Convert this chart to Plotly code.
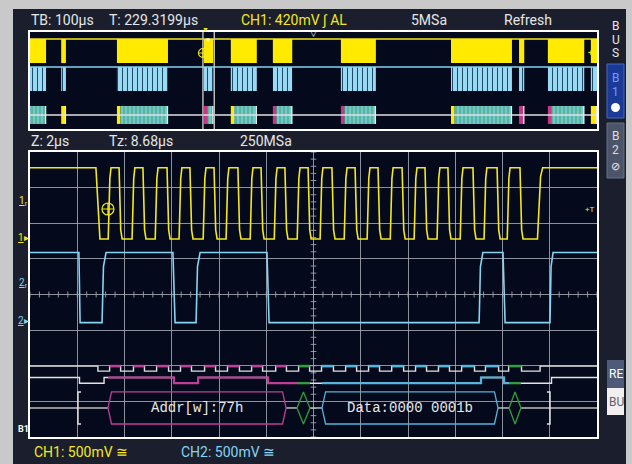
import plotly.graph_objects as go

W, H = 632, 464

# ---------------- zoomed acquisition: time in µs (Z: 2 µs/div), level in divisions ----------------
ch1_high_level = 7.56
ch1_low_level = 5.56
ch1_first_fall = [2.79, 2.96]
ch1_pulse_top_start = [3.43, 4.44, 5.42, 6.43, 7.45, 8.42, 9.44, 10.46, 11.43,
                       12.40, 13.42, 14.39, 15.37, 16.38, 17.35, 18.33, 19.34, 20.32]
ch1_pulse_top_end = [3.77, 4.78, 5.80, 6.77, 7.79, 8.80, 9.78, 10.79, 11.77,
                     12.78, 13.76, 14.73, 15.75, 16.72, 17.69, 18.75, 19.77, 20.74]
ch1_last_rise = [21.48, 21.70]

ch2_high_level = 5.18
ch2_low_level = 3.21
ch2_edge_start = [2.07, 3.05, 6.05, 7.03, 10.03, 19.01, 20.02, 22.01]
ch2_edge_end = [2.12, 3.22, 6.14, 7.20, 10.12, 19.17, 20.11, 22.14]

frame_labels = ["Addr[w]:77h", "", "Data:0000 0001b", ""]
frame_kinds = ["addr", "ack", "data", "ack"]
frame_start = [3.30, 11.30, 12.36, 20.28]
frame_end = [10.84, 11.85, 19.81, 20.78]
start_condition = 2.03
stop_condition = 22.01

trigger_time = 3.30
trigger_level = 6.40

# ---------------- overview acquisition: time in µs (TB: 100 µs/div) ----------------
ov_burst_start = [0, 66, 184, 368, 425, 514, 658, 891, 1035, 1096, 1187]
ov_burst_end = [34, 76, 292, 388, 480, 555, 732, 1020, 1046, 1173, 1200]
ov_burst_marker = ["none", "yellow", "yellow", "magenta", "yellow", "magenta",
                   "magenta", "yellow", "magenta", "magenta", "yellow"]
zoom_window = [366, 390]
ov_trigger_time = 366
ov_trigger_level = 7.84

# ---------------- styling ----------------
SCREEN = "#1b1f2d"
PLOT = "#040a1b"
FRAME_GRAY = "#c9c9c9"
GRID = "rgba(165,170,180,0.85)"
YEL = "#f4e81c"
BLU = "#86d3f2"
MAG = "#bf3f98"
CYA = "#55b4dc"
GRN = "#2f9e3c"
WHT = "#e2e2e2"
KIND_COLOR = {"addr": MAG, "data": CYA, "ack": GRN}
FONT = "Roboto"
MONO = "Liberation Mono"

# bus row positions (divisions)
R1_HI, R1_LO = 1.99, 1.85
R2_HI, R2_LO = 1.67, 1.51
R3_C, R3_T, R3_B = 0.815, 1.264, 0.365
TEND = 24.0

# overview rows (0..10)
OV_Y_HI, OV_Y_LO = 9.28, 6.80
OV_B_HI, OV_B_LO = 6.39, 3.92
OV_S_HI, OV_S_LO, OV_S_C = 2.37, 0.52, 1.44


def px(x):
    return x / W


def py(y):
    return 1 - y / H


fig = go.Figure()


def line(x, y, color, width, xa="x", ya="y", **kw):
    fig.add_trace(go.Scatter(x=x, y=y, mode="lines", xaxis=xa, yaxis=ya,
                             line=dict(color=color, width=width), hoverinfo="skip", **kw))


# ---- center graticule ticks ----
tx, ty = [], []
for k in range(41):
    yv = k * 0.2
    tx += [12 - 0.12, 12 + 0.12, None]
    ty += [yv, yv, None]
for k in range(61):
    xv = k * 0.4
    tx += [xv, xv, None]
    ty += [4 - 0.085, 4 + 0.085, None]
line(tx, ty, GRID, 1)

# ---- CH1 analog path ----
t1 = [0, ch1_first_fall[0], ch1_first_fall[1]]
v1 = [ch1_high_level, ch1_high_level, ch1_low_level]
for a, b in zip(ch1_pulse_top_start, ch1_pulse_top_end):
    t1 += [a - 0.12, a - 0.05, a, b, b + 0.07, b + 0.13]
    v1 += [ch1_low_level, ch1_high_level - 0.3, ch1_high_level, ch1_high_level,
           ch1_low_level + 0.25, ch1_low_level]
t1 += [ch1_last_rise[0], ch1_last_rise[0] + 0.6 * (ch1_last_rise[1] - ch1_last_rise[0]),
       ch1_last_rise[1], TEND]
v1 += [ch1_low_level, ch1_high_level - 0.25, ch1_high_level, ch1_high_level]

# ---- CH2 analog path ----
t2 = [0]
v2 = [ch2_high_level]
lvl_high = True
for a, b in zip(ch2_edge_start, ch2_edge_end):
    if lvl_high:
        t2 += [a, b]
        v2 += [ch2_high_level, ch2_low_level]
    else:
        t2 += [a, a + 0.35 * (b - a), b]
        v2 += [ch2_low_level, ch2_low_level + 0.8 * (ch2_high_level - ch2_low_level), ch2_high_level]
    lvl_high = not lvl_high
t2.append(TEND)
v2.append(v2[-1])

line(t2, v2, BLU, 1.6)
line(t1, v1, YEL, 1.6)

# trigger crosshair
fig.add_trace(go.Scatter(x=[trigger_time], y=[trigger_level], mode="markers",
                         marker=dict(symbol="circle-cross-open", size=12, color=YEL,
                                     line=dict(color=YEL, width=1.2)), hoverinfo="skip"))

# ---- digital (decoded) rows ----
scl_tr = [(ch1_first_fall[0] + ch1_first_fall[1]) / 2]
for a, b in zip(ch1_pulse_top_start, ch1_pulse_top_end):
    scl_tr += [a - 0.06, b + 0.065]
scl_tr.append((ch1_last_rise[0] + ch1_last_rise[1]) / 2)
sda_tr = [(a + b) / 2 for a, b in zip(ch2_edge_start, ch2_edge_end)]


def step_level(trs, x):
    n = sum(1 for tr in trs if tr <= x)
    return n % 2 == 0  # starts high


def step_path(trs, hi, lo, t0=0.0, t_end=TEND):
    cur = step_level(trs, t0)
    xs, ys = [t0], [hi if cur else lo]
    for tr in trs:
        if t0 < tr < t_end:
            xs += [tr, tr]
            ys += [hi if cur else lo, lo if cur else hi]
            cur = not cur
    xs.append(t_end)
    ys.append(hi if cur else lo)
    return xs, ys


x, y = step_path(scl_tr, R1_HI, R1_LO)
line(x, y, WHT, 1.4)
x, y = step_path(sda_tr, R2_HI, R2_LO)
line(x, y, WHT, 1.4)

# row 1: colored highs by frame
hi_edges = [0.0] + scl_tr + [TEND]
for i in range(0, len(hi_edges) - 1, 2):
    a, b = hi_edges[i], hi_edges[i + 1]
    m = (a + b) / 2
    for s, e, k in zip(frame_start, frame_end, frame_kinds):
        if s <= m <= e:
            line([a, b], [R1_HI, R1_HI], KIND_COLOR[k], 2.6)

# row 2: colored segments within frames
for i, (s, e, k) in enumerate(zip(frame_start, frame_end, frame_kinds)):
    end = e if (k == "ack" or i == len(frame_start) - 1) else frame_start[i + 1]
    x, y = step_path(sda_tr, R2_HI, R2_LO, s, end)
    line(x, y, KIND_COLOR[k], 2.2)

# row 3: frame shapes
gap_x, gap_y = [0, frame_start[0], None], [R3_C, R3_C, None]
for i in range(len(frame_start) - 1):
    gap_x += [frame_end[i], frame_start[i + 1], None]
    gap_y += [R3_C, R3_C, None]
gap_x += [frame_end[-1], TEND]
gap_y += [R3_C, R3_C]
line(gap_x, gap_y, "#bdbdbd", 1.5)

for s, e, k, lab in zip(frame_start, frame_end, frame_kinds, frame_labels):
    c = KIND_COLOR[k]
    if k == "ack":
        m = (s + e) / 2
        line([s, m, e, m, s], [R3_C, R3_T, R3_C, R3_B, R3_C], c, 1.3)
    else:
        d = 0.15
        line([s, s + d, e - d, e, e - d, s + d, s],
             [R3_C, R3_T, R3_T, R3_C, R3_B, R3_B, R3_C], c, 1.3)
        fig.add_annotation(x=(s + e) / 2, y=R3_C, xref="x", yref="y", text=lab,
                           showarrow=False, font=dict(family=MONO, size=14, color="#e8e8e8"))

# start / stop brackets
line([start_condition + 0.13, start_condition, start_condition, start_condition + 0.13],
     [R3_T, R3_T, R3_B, R3_B], WHT, 1.5)
line([stop_condition - 0.13, stop_condition, stop_condition, stop_condition - 0.13],
     [R3_T, R3_T, R3_B, R3_B], WHT, 1.5)

# ---------------- overview ----------------
OV = dict(xa="x2", ya="y2")
line([0, 1200], [OV_Y_HI, OV_Y_HI], YEL, 1.5, **OV)
line([0, 1200], [OV_B_HI, OV_B_HI], BLU, 1.5, **OV)
line([0, 1200], [OV_S_C, OV_S_C], WHT, 1.6, **OV)

cx = [(s + e) / 2 for s, e in zip(ov_burst_start, ov_burst_end)]
wd = [e - s for s, e in zip(ov_burst_start, ov_burst_end)]
fig.add_trace(go.Bar(x=cx, width=wd, base=[OV_Y_LO] * len(cx), y=[OV_Y_HI - OV_Y_LO] * len(cx),
                     xaxis="x2", yaxis="y2", marker=dict(color="#ffea00", line=dict(width=0)),
                     hoverinfo="skip"))
fig.add_trace(go.Bar(x=cx, width=wd, base=[OV_B_LO] * len(cx), y=[OV_B_HI - OV_B_LO] * len(cx),
                     xaxis="x2", yaxis="y2",
                     marker=dict(color="#9ad9f4", line=dict(width=0),
                                 pattern=dict(shape="|", fgcolor="#1d4a66", bgcolor="#9ad9f4",
                                              size=5, solidity=0.2, fillmode="replace")),
                     hoverinfo="skip"))

MARK_W = 7
cyan_x, cyan_w, mk = [], [], {"yellow": ([], []), "magenta": ([], [])}
for s, e, m in zip(ov_burst_start, ov_burst_end, ov_burst_marker):
    if m != "none" and e - s < 15:
        mk[m][0].append((s + e) / 2)
        mk[m][1].append(e - s)
        continue
    cs = s
    if m != "none":
        mk[m][0].append(s + MARK_W / 2)
        mk[m][1].append(MARK_W)
        cs = s + MARK_W
    cyan_x.append((cs + e) / 2)
    cyan_w.append(e - cs)
fig.add_trace(go.Bar(x=cyan_x, width=cyan_w, base=[OV_S_LO] * len(cyan_x),
                     y=[OV_S_HI - OV_S_LO] * len(cyan_x), xaxis="x2", yaxis="y2",
                     marker=dict(color="#6cc8d8", line=dict(width=0),
                                 pattern=dict(shape="|", fgcolor="#55a860", bgcolor="#6cc8d8",
                                              size=4, solidity=0.3, fillmode="replace")),
                     hoverinfo="skip"))
for name, col in (("yellow", "#ffea00"), ("magenta", "#c8368a")):
    fig.add_trace(go.Bar(x=mk[name][0], width=mk[name][1], base=[OV_S_LO] * len(mk[name][0]),
                         y=[OV_S_HI - OV_S_LO] * len(mk[name][0]), xaxis="x2", yaxis="y2",
                         marker=dict(color=col, line=dict(width=0)), hoverinfo="skip"))
ex, ey = [], []
for e in ov_burst_end:
    ex += [e - 1, e - 1, None]
    ey += [OV_S_LO, OV_S_HI, None]
line(ex, ey, "#e8e8e8", 1.3, **OV)

# zoom window
line([zoom_window[0], zoom_window[0], None, zoom_window[1], zoom_window[1]],
     [0, 10, None, 0, 10], "#c4c4c4", 1.4, **OV)
fig.add_trace(go.Scatter(x=[ov_trigger_time], y=[ov_trigger_level], mode="markers",
                         xaxis="x2", yaxis="y2",
                         marker=dict(symbol="circle-cross-open", size=9, color=YEL,
                                     line=dict(color=YEL, width=1.1)), hoverinfo="skip"))

# ---------------- layout ----------------
ax_common = dict(showticklabels=False, ticks="", zeroline=False, showline=True,
                 linecolor="white", linewidth=2, mirror=True, fixedrange=True)
fig.update_layout(
    width=W, height=H, margin=dict(l=0, r=0, t=0, b=0),
    paper_bgcolor=SCREEN, plot_bgcolor=PLOT, showlegend=False, barmode="overlay",
    xaxis=dict(domain=[px(30), px(597)], range=[0, 24], dtick=2, tick0=0, showgrid=True,
               gridcolor=GRID, gridwidth=1, anchor="y", **ax_common),
    yaxis=dict(domain=[py(437), py(152)], range=[0, 8], dtick=1, tick0=0, showgrid=True,
               gridcolor=GRID, gridwidth=1, anchor="x", **ax_common),
    xaxis2=dict(domain=[px(30), px(597)], range=[0, 1200], showgrid=False, anchor="y2", **ax_common),
    yaxis2=dict(domain=[py(129), py(32)], range=[0, 10], showgrid=False, anchor="x2", **ax_common),
)

shapes = []


def rect(x0, y0, x1, y1, fill, lc=None, lw=0):
    shapes.append(dict(type="rect", xref="paper", yref="paper", x0=px(x0), x1=px(x1),
                       y0=py(y1), y1=py(y0), fillcolor=fill,
                       line=dict(color=lc or fill, width=lw), layer="above"))


rect(0, 0, 13, H, FRAME_GRAY)
rect(0, 0, W, 9, FRAME_GRAY)
rect(626, 0, W, H, FRAME_GRAY)
rect(607, 64, 624, 118, "#1b3a98", "#4468c8", 1)
rect(607, 123, 624, 178, "#4b5469", "#687088", 1)
rect(607, 360, 624, 388, "#4f5a78")
rect(607, 388, 624, 415, "#f3efef")
shapes.append(dict(type="circle", xref="paper", yref="paper", x0=px(611), x1=px(620),
                   y0=py(112), y1=py(103), fillcolor="white", line=dict(color="white", width=0)))
fig.update_layout(shapes=shapes)


def txt(x, y, s, color="#e6e6e6", size=14, anchor="left", family=FONT):
    fig.add_annotation(x=px(x), y=py(y), xref="paper", yref="paper", text=s, showarrow=False,
                       xanchor=anchor, yanchor="middle", font=dict(family=family, size=size, color=color))


txt(29, 20, "TB: 100µs")
txt(107, 20, "T: 229.3199µs")
txt(239, 20, "CH1: 420mV ∫ AL", YEL)
txt(409, 20, "5MSa")
txt(502, 20, "Refresh")
txt(29, 141, "Z: 2µs")
txt(107, 141, "Tz: 8.68µs")
txt(238, 141, "250MSa")
txt(32, 452, "CH1: 500mV ≅", YEL)
txt(179, 452, "CH2: 500mV ≅", BLU)

for yy, ch in ((26, "B"), (40, "U"), (53, "S")):
    txt(615.5, yy, ch, "#e8e8e8", 12, "center")
txt(615.5, 78, "B", "#6b9cff", 12, "center")
txt(615.5, 92, "1", "#6b9cff", 12, "center")
txt(615.5, 136, "B", "#dedede", 12, "center")
txt(615.5, 150, "2", "#dedede", 12, "center")
txt(615.5, 166, "⊘", "#f0f0f0", 11, "center")
txt(607, 374, "RE", "#ffffff", 12, "left")
txt(607, 402, "BU", "#5a6070", 12, "left")

# triangles at overview top
txt(205, 30, "▼", YEL, 7, "center")
txt(208, 39, "▼", "#ffffff", 6, "center")
txt(313, 33, "▽", "#ffffff", 9, "center")
txt(590, 53, "+", YEL, 9, "center")
txt(590, 209, "+T", YEL, 8, "center")

# channel markers at left
txt(23, 201, "<u>1</u><sub>r</sub>", YEL, 10, "center")
txt(23, 237, "<u>1</u>▸", YEL, 10, "center")
txt(23, 283, "<u>2</u><sub>r</sub>", BLU, 10, "center")
txt(23, 320, "<u>2</u>▸", BLU, 10, "center")
txt(23, 429, "<b>B1</b>", "#ffffff", 9, "center")

fig.write_html("out.html", config={"displayModeBar": False},
               post_script="document.body.style.margin='0px';document.body.style.overflow='hidden';")
